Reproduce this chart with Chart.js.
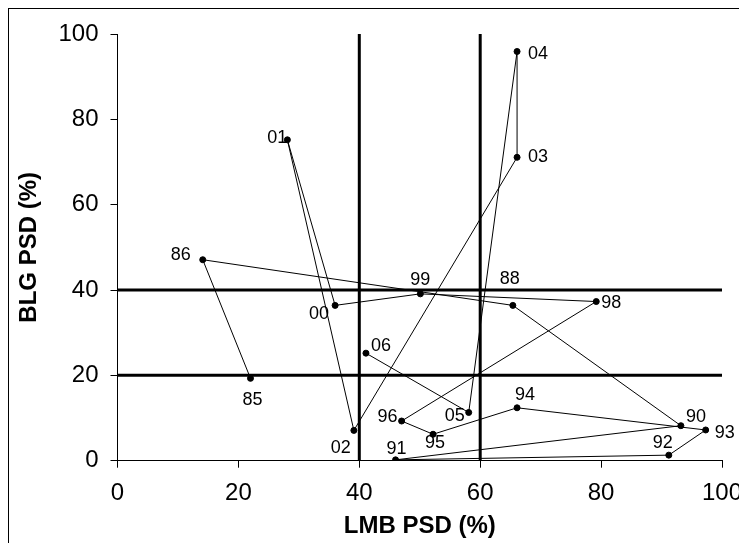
<!DOCTYPE html>
<html>
<head>
<meta charset="utf-8">
<script src="https://cdn.jsdelivr.net/npm/chart.js@4.4.0/dist/chart.umd.min.js"></script>
<style>
  html, body { margin: 0; padding: 0; background: #fff; }
  #wrap { width: 739px; height: 543px; position: relative; }
</style>
</head>
<body>
<div id="wrap"><canvas id="chart" width="739" height="543"></canvas></div>
<script>
// year labels, in the order the line is drawn
const years = ["85", "86", "88", "90", "91", "92", "93", "94", "95", "96", "98", "99", "00", "01", "02", "03", "04", "05", "06"];
const lmb_psd = [22, 14.1, 65.4, 93.2, 46, 91.2, 97.3, 66.1, 52.2, 47, 79.2, 50.1, 36, 28.1, 39.1, 66.1, 66.1, 58.1, 41.1];
const blg_psd = [19.3, 47.1, 36.4, 8.2, 0.2, 1.3, 7.2, 12.4, 6.2, 9.3, 37.3, 39.1, 36.4, 75.2, 7.1, 71.1, 95.9, 11.3, 25.2];

// reference lines
const ref_x = [40, 60];
const ref_y = [20, 40];
const axis_min = 0;
const axis_max = 100;
const tick_step = 20;

const font_family = "'Liberation Sans', Arial, sans-serif";

// where each year label sits relative to its point (px)
const label_offsets = {
  "85": [2, 22], "86": [-22, -5], "88": [-3, -26], "90": [15, -9],
  "91": [1, -11], "92": [-6, -12], "93": [19, 3], "94": [8, -13],
  "95": [2, 9], "96": [-14, -4], "98": [15, 1], "99": [0, -14],
  "00": [-16, 9], "01": [-10, -2], "02": [-13, 18], "03": [21, 0],
  "04": [21, 3], "05": [-14, 4], "06": [15, -7]
};

const points = years.map((y, i) => ({ x: lmb_psd[i], y: blg_psd[i] }));

const datasets = [];
ref_x.forEach((v) => {
  datasets.push({
    data: [{ x: v, y: axis_min }, { x: v, y: axis_max }],
    showLine: true, borderColor: "#000", borderWidth: 3, pointRadius: 0,
  });
});
ref_y.forEach((v) => {
  datasets.push({
    data: [{ x: axis_min, y: v }, { x: axis_max, y: v }],
    showLine: true, borderColor: "#000", borderWidth: 3, pointRadius: 0,
  });
});
datasets.push({
  data: points,
  showLine: true,
  borderColor: "#000",
  borderWidth: 1,
  pointRadius: 3,
  pointBackgroundColor: "#000",
  pointBorderColor: "#000",
});

const frame_plugin = {
  id: "frame",
  beforeDraw(chart) {
    const ctx = chart.ctx;
    ctx.save();
    ctx.fillStyle = "#fff";
    ctx.fillRect(0, 0, chart.width, chart.height);
    ctx.strokeStyle = "#000";
    ctx.lineWidth = 1;
    ctx.strokeRect(8.5, 8.5, 900, 900);
    ctx.restore();
  },
};

const year_labels_plugin = {
  id: "yearLabels",
  afterDatasetsDraw(chart) {
    const ctx = chart.ctx;
    const meta = chart.getDatasetMeta(chart.data.datasets.length - 1);
    ctx.save();
    ctx.fillStyle = "#000";
    ctx.font = "18px " + font_family;
    ctx.textAlign = "center";
    ctx.textBaseline = "middle";
    meta.data.forEach((pt, i) => {
      const off = label_offsets[years[i]] || [0, 0];
      ctx.fillText(years[i], pt.x + off[0], pt.y + off[1]);
    });
    ctx.restore();
  },
};

new Chart(document.getElementById("chart"), {
  type: "scatter",
  data: { datasets: datasets },
  options: {
    responsive: false,
    animation: false,
    events: [],
    layout: { padding: { left: 0, top: 34, right: 17, bottom: 0 } },
    plugins: {
      legend: { display: false },
      tooltip: { enabled: false },
    },
    scales: {
      x: {
        type: "linear",
        min: axis_min,
        max: axis_max,
        ticks: { stepSize: tick_step, color: "#000", padding: 11, font: { size: 24, family: font_family } },
        grid: { drawOnChartArea: false, color: "#000", tickLength: 7, tickWidth: 1 },
        border: { color: "#000", width: 1 },
        title: {
          display: true, text: "LMB PSD (%)", color: "#000",
          font: { size: 24, weight: "bold", family: font_family },
          padding: { top: 0, bottom: 2 },
        },
        afterFit(scale) {
          scale.height = 82.3;
          scale.paddingLeft = 0;
          scale.paddingRight = 0;
        },
      },
      y: {
        type: "linear",
        min: axis_min,
        max: axis_max,
        ticks: { stepSize: tick_step, color: "#000", padding: 12, font: { size: 24, family: font_family } },
        grid: { drawOnChartArea: false, color: "#000", tickLength: 7, tickWidth: 1 },
        border: { color: "#000", width: 1 },
        title: {
          display: true, text: "BLG PSD (%)", color: "#000",
          font: { size: 24, weight: "bold", family: font_family },
          padding: { top: 14.5, bottom: 0 },
        },
        afterFit(scale) {
          scale.width = 117.5;
          scale.paddingTop = 0;
          scale.paddingBottom = 0;
        },
      },
    },
  },
  plugins: [frame_plugin, year_labels_plugin],
});
</script>
</body>
</html>
